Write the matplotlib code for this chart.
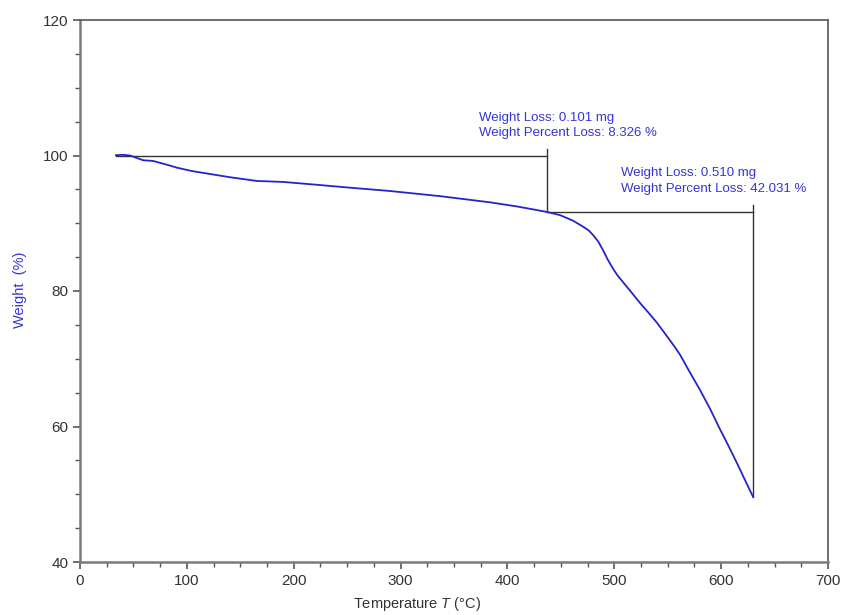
import matplotlib
matplotlib.use("Agg")
import matplotlib.pyplot as plt
from matplotlib.ticker import MultipleLocator

plt.rcParams['font.family'] = ['Liberation Sans', 'DejaVu Sans']
plt.rcParams['mathtext.fontset'] = 'custom'
plt.rcParams['mathtext.rm'] = 'Liberation Sans'
plt.rcParams['mathtext.it'] = 'Liberation Sans:italic'

# TGA curve data
temperature = [33.7, 40.0, 46.8, 52.0, 59.0, 68.3, 80.0, 90.8, 105.0, 121.7, 140.0,
               165.6, 190.0, 220.0, 252.7, 290.1, 336.9, 383.7, 410.0, 437.0, 449.2,
               461.4, 470.7, 476.0, 480.1, 485.0, 489.4, 494.0, 498.8, 503.0, 508.2,
               515.0, 524.1, 532.0, 540.0, 548.0, 556.8, 561.5, 570.0, 580.2, 590.0,
               598.9, 607.0, 614.8, 622.0, 629.8]
weight = [100.05, 100.1, 100.0, 99.7, 99.3, 99.2, 98.7, 98.2, 97.7, 97.27, 96.8,
          96.24, 96.1, 95.7, 95.25, 94.76, 94.0, 93.09, 92.45, 91.67, 91.2,
          90.38, 89.5, 88.95, 88.27, 87.3, 86.05, 84.6, 83.3, 82.3, 81.3,
          80.0, 78.23, 76.8, 75.3, 73.6, 71.7, 70.6, 68.2, 65.4, 62.5,
          59.6, 57.1, 54.6, 52.2, 49.64]

# Step annotations: (start T, end T, start weight, end weight)
step1 = dict(t0=33.7, t1=437.0, w0=100.0, w1=91.674,
             label="Weight Loss: 0.101 mg\nWeight Percent Loss: 8.326 %")
step2 = dict(t0=437.0, t1=629.8, w0=91.674, w1=49.643,
             label="Weight Loss: 0.510 mg\nWeight Percent Loss: 42.031 %")

x_ticks = [0, 100, 200, 300, 400, 500, 600, 700]
y_ticks = [40, 60, 80, 100, 120]

fig = plt.figure(figsize=(8.42, 6.15), dpi=100)
ax = fig.add_axes([80/842, 1-562/615, 748/842, 542/615])

curve_color = '#2424c8'
text_color = '#3535d8'
line_color = '#333333'

ax.plot(temperature, weight, color=curve_color, lw=1.3, zorder=3)

for st, ext in ((step1, 0.9), (step2, 1.0)):
    ax.plot([st['t0'], st['t1']], [st['w0'], st['w0']], color=line_color, lw=1.0, zorder=2)
    ax.plot([st['t1'], st['t1']], [st['w0'] + ext, st['w1']], color=line_color, lw=1.0, zorder=2)

ax.text(373.4, 102.4, step1['label'], color=text_color, fontsize=9.5,
        ha='left', va='bottom', linespacing=1.4)
ax.text(506.3, 94.2, step2['label'], color=text_color, fontsize=9.5,
        ha='left', va='bottom', linespacing=1.4)

ax.set_xlim(0, 700)
ax.set_ylim(40, 120)
ax.set_xticks(x_ticks)
ax.set_yticks(y_ticks)
ax.xaxis.set_minor_locator(MultipleLocator(25))
ax.yaxis.set_minor_locator(MultipleLocator(5))
ax.tick_params(which='major', direction='out', length=5, width=1.2, colors='#555555',
               labelcolor='#333333', labelsize=11)
ax.tick_params(which='minor', direction='out', length=3.5, width=1.0, colors='#555555')
ax.tick_params(top=False, right=False, which='both')

for side in ('left', 'bottom'):
    ax.spines[side].set_color('#7a7a7a')
    ax.spines[side].set_linewidth(1.8)
for side in ('top', 'right'):
    ax.spines[side].set_color('#555555')
    ax.spines[side].set_linewidth(1.2)

ax.set_xlabel('Temperature $T$ (°C)', fontsize=10.5, color='#333333')
ax.set_ylabel('Weight  (%)', fontsize=10.5, color=text_color)
ax.xaxis.set_label_coords((417 - 80) / 748, (562 - 595) / 542)
ax.yaxis.set_label_coords((27 - 80) / 748, (562 - 290) / 542)

fig.savefig('out.png', dpi=100)
